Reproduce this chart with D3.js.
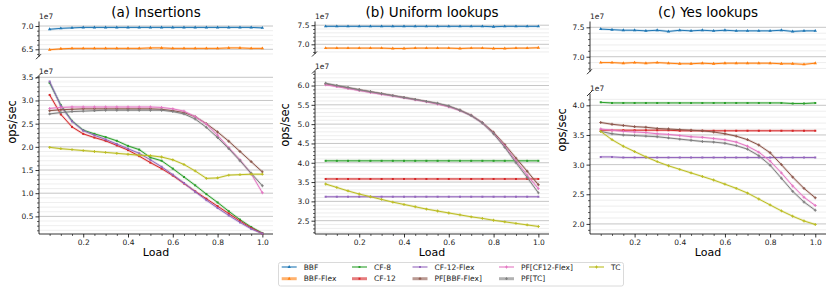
<!DOCTYPE html>
<html><head><meta charset="utf-8">
<script src="https://cdn.jsdelivr.net/npm/d3@7"></script>
<style>body{margin:0;background:#fff} svg{font-family:"DejaVu Sans",sans-serif}</style>
</head><body><svg id="c" width="831" height="292"></svg>
<script>
const loads = [0.05,0.10,0.15,0.20,0.25,0.30,0.35,0.40,0.45,0.50,0.55,0.60,0.65,0.70,0.75,0.80,0.85,0.90,0.95,1.00];
const seriesNames = ["BBF","BBF-Flex","CF-8","CF-12","CF-12-Flex","PF[BBF-Flex]","PF[CF12-Flex]","PF[TC]","TC"];
const seriesColors = ["#1f77b4","#ff7f0e","#2ca02c","#d62728","#9467bd","#8c564b","#e377c2","#7f7f7f","#bcbd22"];
const seriesMarkers = ["tri","tri","sq","sq","sq","cross","cross","cross","cross"];
const titles = ["(a) Insertions","(b) Uniform lookups","(c) Yes lookups"];
const xTicks = [0.2,0.4,0.6,0.8,1.0];

// (a) Insertions, ops/sec in units of 1e7
const insBBF      = [6.93,6.95,6.96,6.97,6.97,6.97,6.97,6.97,6.97,6.97,6.97,6.97,6.97,6.97,6.97,6.97,6.97,6.97,6.97,6.96];
const insBBFFlex  = [6.49,6.51,6.52,6.52,6.52,6.52,6.52,6.52,6.52,6.53,6.53,6.52,6.52,6.52,6.52,6.52,6.53,6.53,6.52,6.52];
const insCF8      = [3.38,2.90,2.56,2.36,2.28,2.21,2.13,2.02,1.94,1.77,1.70,1.53,1.35,1.17,0.98,0.80,0.61,0.43,0.27,0.14];
const insCF12     = [3.12,2.70,2.43,2.28,2.20,2.13,2.03,1.93,1.80,1.66,1.53,1.38,1.21,1.04,0.88,0.72,0.56,0.40,0.25,0.13];
const insCF12Flex = [3.41,2.88,2.55,2.35,2.25,2.16,2.06,1.96,1.86,1.72,1.57,1.40,1.22,1.03,0.85,0.68,0.52,0.37,0.23,0.13];
const insPFBBF    = [2.78,2.80,2.81,2.82,2.82,2.82,2.82,2.82,2.82,2.82,2.81,2.78,2.74,2.65,2.50,2.32,2.12,1.90,1.68,1.46];
const insPFCF12   = [2.83,2.85,2.86,2.86,2.86,2.86,2.86,2.86,2.86,2.86,2.85,2.82,2.77,2.65,2.49,2.25,1.98,1.72,1.42,1.01];
const insPFTC     = [2.71,2.74,2.76,2.77,2.78,2.79,2.79,2.79,2.79,2.79,2.79,2.76,2.71,2.60,2.42,2.20,1.96,1.70,1.43,1.16];
const insTC       = [1.99,1.96,1.94,1.92,1.90,1.88,1.86,1.84,1.82,1.81,1.78,1.72,1.62,1.48,1.32,1.33,1.39,1.40,1.41,1.41];

// (b) Uniform lookups
const uniBBF      = [7.47,7.47,7.47,7.47,7.47,7.47,7.47,7.47,7.47,7.47,7.47,7.47,7.47,7.47,7.47,7.46,7.47,7.47,7.47,7.47];
const uniBBFFlex  = [6.90,6.90,6.90,6.90,6.90,6.90,6.89,6.89,6.90,6.90,6.90,6.90,6.89,6.90,6.90,6.89,6.89,6.90,6.90,6.91];
const uniCF8      = [4.05,4.05,4.05,4.05,4.05,4.05,4.05,4.05,4.05,4.05,4.05,4.05,4.05,4.05,4.05,4.05,4.05,4.05,4.05,4.05];
const uniCF12     = [3.58,3.58,3.58,3.58,3.58,3.58,3.58,3.58,3.58,3.58,3.58,3.58,3.58,3.58,3.58,3.58,3.58,3.58,3.58,3.58];
const uniCF12Flex = [3.12,3.12,3.12,3.12,3.12,3.12,3.12,3.12,3.12,3.12,3.12,3.12,3.12,3.12,3.12,3.12,3.12,3.12,3.12,3.12];
const uniPFBBF    = [6.04,5.99,5.94,5.89,5.84,5.79,5.74,5.69,5.64,5.59,5.53,5.46,5.36,5.23,5.04,4.79,4.47,4.12,3.78,3.43];
const uniPFCF12   = [6.02,5.97,5.92,5.87,5.82,5.77,5.73,5.68,5.63,5.58,5.52,5.45,5.35,5.22,5.03,4.76,4.43,4.05,3.68,3.33];
const uniPFTC     = [6.06,6.00,5.95,5.89,5.84,5.79,5.74,5.69,5.64,5.59,5.54,5.47,5.36,5.22,5.03,4.75,4.40,4.00,3.62,3.22];
const uniTC       = [3.45,3.36,3.27,3.19,3.12,3.05,2.98,2.92,2.86,2.80,2.75,2.70,2.65,2.60,2.56,2.51,2.47,2.43,2.39,2.35];

// (c) Yes lookups
const yesBBF      = [7.47,7.46,7.45,7.45,7.44,7.45,7.43,7.45,7.44,7.45,7.44,7.45,7.44,7.44,7.44,7.44,7.45,7.43,7.44,7.44];
const yesBBFFlex  = [6.90,6.90,6.89,6.90,6.89,6.90,6.89,6.88,6.88,6.89,6.88,6.89,6.89,6.89,6.89,6.89,6.88,6.88,6.87,6.89];
const yesCF8      = [4.05,4.04,4.04,4.04,4.04,4.04,4.04,4.04,4.04,4.04,4.04,4.04,4.04,4.04,4.04,4.04,4.04,4.03,4.03,4.04];
const yesCF12     = [3.58,3.58,3.58,3.58,3.58,3.58,3.58,3.57,3.57,3.57,3.57,3.57,3.57,3.57,3.57,3.57,3.57,3.57,3.57,3.57];
const yesCF12Flex = [3.13,3.13,3.12,3.12,3.12,3.12,3.12,3.12,3.12,3.12,3.12,3.12,3.12,3.12,3.12,3.12,3.12,3.12,3.12,3.12];
const yesPFBBF    = [3.71,3.68,3.66,3.64,3.63,3.61,3.60,3.59,3.58,3.57,3.55,3.52,3.48,3.42,3.33,3.20,3.00,2.79,2.60,2.44];
const yesPFCF12   = [3.60,3.58,3.56,3.55,3.54,3.52,3.51,3.49,3.47,3.46,3.44,3.42,3.38,3.31,3.21,3.06,2.86,2.64,2.45,2.31];
const yesPFTC     = [3.56,3.52,3.50,3.49,3.48,3.47,3.45,3.43,3.41,3.39,3.38,3.36,3.32,3.26,3.15,2.99,2.77,2.55,2.37,2.23];
const yesTC       = [3.56,3.42,3.31,3.22,3.13,3.05,2.98,2.92,2.86,2.80,2.74,2.67,2.60,2.52,2.42,2.32,2.22,2.13,2.05,1.99];

// y tick labels
const aTopTicks = [6.5,7.0], aBotTicks = [0.5,1.0,1.5,2.0,2.5,3.0,3.5];
const bTopTicks = [7.0,7.5], bBotTicks = [2.5,3.0,3.5,4.0,4.5,5.0,5.5,6.0];
const cTopTicks = [7.0,7.5], cBotTicks = [2.0,2.5,3.0,3.5,4.0];

const panelData = [
  [insBBF,insBBFFlex,insCF8,insCF12,insCF12Flex,insPFBBF,insPFCF12,insPFTC,insTC],
  [uniBBF,uniBBFFlex,uniCF8,uniCF12,uniCF12Flex,uniPFBBF,uniPFCF12,uniPFTC,uniTC],
  [yesBBF,yesBBFFlex,yesCF8,yesCF12,yesCF12Flex,yesPFBBF,yesPFCF12,yesPFTC,yesTC]
];
const panelTicks = [[aTopTicks,aBotTicks],[bTopTicks,bBotTicks],[cTopTicks,cBotTicks]];

// layout (pixel geometry + axis limits)
const layout = [
  {x0:39, x1:273, top:{y0:21.5,y1:56.7,lo:6.341,hi:7.097}, bot:{y0:76,  y1:234,lo:0.12, hi:3.528}, ylab:[11.7,122]},
  {x0:315,x1:549, top:{y0:21.5,y1:54,  lo:6.746,hi:7.597}, bot:{y0:71,  y1:234,lo:2.155,hi:6.376}, ylab:[285,125]},
  {x0:590,x1:826, top:{y0:21.5,y1:71.7,lo:6.745,hi:7.599}, bot:{y0:93.5,y1:234,lo:1.83, hi:4.199}, ylab:[562,130]}
];

const svg = d3.select("#c");
const defs = svg.append("defs");
const fmt = d3.format(".1f");

function marker(g, type, x, y, color) {
  let sym, size;
  if (type === "tri") { sym = d3.symbolTriangle; size = 5; }
  else if (type === "sq") { sym = d3.symbolSquare; size = 4; }
  else { sym = d3.symbolCross; size = 4.5; }
  g.append("path").attr("d", d3.symbol(sym, size)()).attr("transform",`translate(${x},${y})`).attr("fill",color);
}

layout.forEach((L, p) => {
  const x = d3.scaleLinear().domain([0.0025, 1.0475]).range([L.x0, L.x1]);
  const subs = [
    {box:L.top, series:[0,1], ticks:panelTicks[p][0], isTop:true},
    {box:L.bot, series:[2,3,4,5,6,7,8], ticks:panelTicks[p][1], isTop:false}
  ];
  subs.forEach((S, si) => {
    const B = S.box;
    const y = d3.scaleLinear().domain([B.lo, B.hi]).range([B.y1, B.y0]);
    const g = svg.append("g");
    const cid = `clip${p}_${si}`;
    defs.append("clipPath").attr("id", cid).append("rect")
      .attr("x", L.x0).attr("y", B.y0 - 2).attr("width", L.x1 - L.x0 + 2).attr("height", B.y1 - B.y0 + 4);
    // grid
    const minorT = d3.range(Math.ceil(B.lo*10), Math.floor(B.hi*10)+1).map(v => v/10)
      .filter(v => Math.abs(v*2 - Math.round(v*2)) > 1e-6);
    minorT.forEach(v => g.append("line").attr("x1",L.x0).attr("x2",L.x1).attr("y1",y(v)).attr("y2",y(v))
      .attr("stroke","#e3e3e3").attr("stroke-width",0.6));
    S.ticks.forEach(v => g.append("line").attr("x1",L.x0).attr("x2",L.x1).attr("y1",y(v)).attr("y2",y(v))
      .attr("stroke","#b8b8b8").attr("stroke-width",0.8));
    // y axis
    const ya = d3.axisLeft(y).tickValues(S.ticks).tickFormat(fmt).tickSize(3.5).tickPadding(2);
    const yg = g.append("g").attr("transform",`translate(${L.x0},0)`).call(ya);
    yg.select(".domain").remove();
    yg.selectAll(".tick line").attr("stroke","#000").attr("stroke-width",0.8);
    yg.selectAll(".tick text").attr("font-size",7.5).attr("fill","#222").attr("font-family","DejaVu Sans");
    const yMinor = d3.axisLeft(y).tickValues(minorT).tickFormat("").tickSize(2);
    const ymg = g.append("g").attr("transform",`translate(${L.x0},0)`).call(yMinor);
    ymg.select(".domain").remove();
    ymg.selectAll(".tick line").attr("stroke","#000").attr("stroke-width",0.6);
    g.append("line").attr("x1",L.x0).attr("x2",L.x0).attr("y1",B.y0).attr("y2",B.y1).attr("stroke","#000").attr("stroke-width",0.8);
    // break marks
    const by = S.isTop ? B.y1 : B.y0;
    g.append("line").attr("x1",L.x0-3).attr("y1",by+2.5).attr("x2",L.x0+2).attr("y2",by-2.5)
      .attr("stroke","#000").attr("stroke-width",0.8);
    // offset text
    g.append("text").attr("x",L.x0).attr("y",B.y0-2.5).attr("font-size",7.5).attr("fill","#222").text("1e7");
    if (!S.isTop) {
      const xa = d3.axisBottom(x).tickValues(xTicks).tickFormat(fmt).tickSize(3.5).tickPadding(2);
      const xg = g.append("g").attr("transform",`translate(0,${B.y1})`).call(xa);
      xg.select(".domain").remove();
      xg.selectAll(".tick line").attr("stroke","#000").attr("stroke-width",0.8);
      xg.selectAll(".tick text").attr("font-size",7.5).attr("fill","#222").attr("font-family","DejaVu Sans");
      const xMinorV = loads.filter(v => !xTicks.some(t => Math.abs(t-v)<1e-6));
      const xmg = g.append("g").attr("transform",`translate(0,${B.y1})`)
        .call(d3.axisBottom(x).tickValues(xMinorV).tickFormat("").tickSize(2));
      xmg.select(".domain").remove();
      xmg.selectAll(".tick line").attr("stroke","#000").attr("stroke-width",0.6);
      g.append("line").attr("x1",L.x0).attr("x2",L.x1).attr("y1",B.y1).attr("y2",B.y1).attr("stroke","#000").attr("stroke-width",0.8);
    }
    // series
    const lg = g.append("g").attr("clip-path",`url(#${cid})`);
    S.series.forEach(si2 => {
      const vals = panelData[p][si2];
      const col = seriesColors[si2];
      const pts = loads.map((l,i) => [x(l), y(vals[i])]);
      const line = d3.line().curve(d3.curveLinear);
      lg.append("path").attr("d", line(pts)).attr("fill","none").attr("stroke",col)
        .attr("stroke-width",2.4).attr("stroke-opacity",0.22);
      lg.append("path").attr("d", line(pts)).attr("fill","none").attr("stroke",col).attr("stroke-width",1);
      pts.forEach(pt => marker(lg, seriesMarkers[si2], pt[0], pt[1], col));
    });
  });
  // title
  svg.append("text").attr("x",(L.x0+L.x1)/2).attr("y",17).attr("text-anchor","middle")
    .attr("font-size",13.5).attr("fill","#000").text(titles[p]);
  // labels
  svg.append("text").attr("transform",`translate(${L.ylab[0]+4},${L.ylab[1]}) rotate(-90)`)
    .attr("text-anchor","middle").attr("font-size",11.5).attr("fill","#000").text("ops/sec");
  svg.append("text").attr("x",(L.x0+L.x1)/2).attr("y",256).attr("text-anchor","middle")
    .attr("font-size",11).attr("fill","#000").text("Load");
});

// legend
const leg = svg.append("g");
leg.append("rect").attr("x",278.5).attr("y",262.5).attr("width",345).attr("height",23.5).attr("rx",2)
  .attr("fill","#fff").attr("fill-opacity",0.85).attr("stroke","#d0d0d0").attr("stroke-width",0.8);
const colX = [281.7, 352, 412.5, 499, 589];
const rowY = [267, 278.7];
seriesNames.forEach((name, i) => {
  const c = Math.floor(i/2), r = i%2;
  const lx = colX[c], ly = rowY[r], col = seriesColors[i];
  if (r === 1) {
    leg.append("line").attr("x1",lx).attr("x2",lx+15).attr("y1",ly).attr("y2",ly)
      .attr("stroke",col).attr("stroke-width",3).attr("stroke-opacity",0.6);
  } else {
    leg.append("line").attr("x1",lx).attr("x2",lx+15).attr("y1",ly).attr("y2",ly)
      .attr("stroke",col).attr("stroke-width",1.1);
  }
  marker(leg, seriesMarkers[i], lx+7.5, ly, col);
  leg.append("text").attr("x",lx+22).attr("y",ly+2.7).attr("font-size",7.5).attr("fill","#222").text(name);
});
</script></body></html>
